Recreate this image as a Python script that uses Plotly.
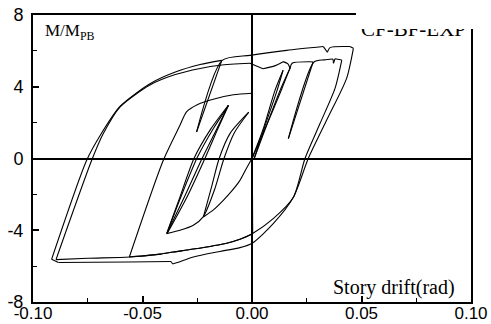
import plotly.graph_objects as go

# ---- data (story drift in rad, normalized moment M/M_PB) ----
pos_small_d = [0.000, 0.0050, 0.0105, 0.0142, 0.0112, 0.0060, 0.0010, 0.0062, 0.0128, 0.0174, 0.0135, 0.0070, 0.0000]
pos_small_m = [0.00, 1.60, 3.80, 4.92, 3.70, 1.85, 0.00, 1.70, 3.80, 5.05, 3.85, 1.95, 0.00]

neg_b_d = [0.0000, -0.0030, -0.0055, -0.0095, -0.0131, -0.0175, -0.0222, -0.0185, -0.0150, -0.0100, -0.0015,
           -0.0080, -0.0128, -0.0170, -0.0222, -0.0268, -0.0329, -0.0390]
neg_b_m = [0.00, -0.65, -1.22, -1.85, -2.33, -2.85, -3.26, -1.60, 0.00, 1.40, 2.58,
           1.45, 0.00, -1.70, -3.24, -3.72, -4.00, -4.19]

neg_a_d = [-0.0390, -0.0332, -0.0265, -0.0188, -0.0108, -0.0165, -0.0228, -0.0305, -0.0388,
           -0.0325, -0.0250, -0.0175, -0.0108, -0.0158, -0.0215, -0.0295, -0.0386]
neg_a_m = [-4.19, -2.25, 0.00, 1.65, 2.97, 1.55, 0.00, -2.05, -4.17,
           -2.15, 0.05, 1.70, 2.95, 1.60, 0.00, -2.10, -4.15]

cyc1_d = [0.0410, 0.0379, 0.0311, 0.0242, 0.0189, 0.0097, 0.0001, -0.0055, -0.0116, -0.0268, -0.0359, -0.0420, -0.0560,
          -0.0405, -0.0329, -0.0299, -0.0250, -0.0177, -0.0085, 0.0000,
          0.0003, -0.0055, -0.0116, -0.0268, -0.0359, -0.0420, -0.0560, -0.0750, -0.0895,
          -0.0732, -0.0679, -0.0603, -0.0466, -0.0350, -0.0237, -0.0146, -0.0009, 0.0050, 0.0100, 0.0142,
          0.0164, 0.0174, 0.0183, 0.0265, 0.0279, 0.0166, 0.0283, 0.0330, 0.0370, 0.0372, 0.0379, 0.0410]
cyc1_m = [5.49, 3.91, 1.96, 0.00, -2.16, -3.35, -4.19, -4.50, -4.72, -5.05, -5.21, -5.33, -5.49,
          -0.10, 1.85, 2.60, 3.00, 3.30, 3.55, 3.64,
          -4.19, -4.50, -4.72, -5.05, -5.21, -5.33, -5.49, -5.56, -5.64,
          -0.10, 1.39, 2.87, 4.10, 4.68, 5.02, 5.20, 5.31, 5.00, 5.15, 5.40,
          5.28, 5.03, 5.31, 5.39, 5.38, 1.11, 5.38, 5.50, 5.55, 5.31, 5.56, 5.49]

cyc2_d = [0.0463, 0.0432, 0.0345, 0.0257, 0.0189, 0.0097, 0.0001, -0.0055, -0.0146, -0.0268, -0.0340, -0.0362,
          -0.0370, -0.0565, -0.0884, -0.0915,
          -0.0755, -0.0690, -0.0603, -0.0466, -0.0350, -0.0237, -0.0138, -0.0253, -0.0136, -0.0009,
          0.0158, 0.0326, 0.0344, 0.0356, 0.0447, 0.0463]
cyc2_m = [6.14, 4.47, 2.24, 0.00, -2.16, -3.63, -4.72, -4.97, -5.18, -5.49, -5.80, -5.88,
          -5.74, -5.77, -5.80, -5.62,
          -0.10, 1.35, 2.90, 4.17, 4.82, 5.24, 5.47, 1.48, 5.47, 5.75,
          6.03, 6.24, 5.92, 6.18, 6.24, 6.14]

x_ticks = [-0.10, -0.05, 0.00, 0.05, 0.10]
x_tick_text = ["-0.10", "-0.05", "0.00", "0.05", "0.10"]
x_minor = [-0.075, -0.025, 0.025, 0.075]
y_ticks = [-8, -4, 0, 4, 8]
y_tick_text = ["-8", "-4", "0", "4", "8"]
y_minor = [-6, -2, 2, 6]


def branches(d, m):
    """Split a load path into branches at drift or moment reversals so each branch can be smoothed."""
    out, start = [], 0
    for i in range(1, len(d) - 1):
        rev_d = (d[i] - d[i - 1]) * (d[i + 1] - d[i]) < 0
        rev_m = (m[i] - m[i - 1]) * (m[i + 1] - m[i]) < 0
        if rev_d or rev_m:
            out.append((d[start:i + 1], m[start:i + 1]))
            start = i
    out.append((d[start:], m[start:]))
    return out


fig = go.Figure()
for d, m in [(pos_small_d, pos_small_m), (neg_b_d, neg_b_m), (neg_a_d, neg_a_m),
             (cyc1_d, cyc1_m), (cyc2_d, cyc2_m)]:
    for bd, bm in branches(d, m):
        fig.add_trace(go.Scatter(x=bd, y=bm, mode="lines", showlegend=False, hoverinfo="skip",
                                 line=dict(color="black", width=1.1, shape="spline", smoothing=0.7)))

x_font = dict(family="Liberation Sans, Arial, sans-serif", size=17, color="black")
y_font = dict(family="Liberation Sans, Arial, sans-serif", size=18, color="black")
fig.update_layout(
    width=491, height=324,
    margin=dict(l=33, r=20, t=15, b=22),
    paper_bgcolor="white", plot_bgcolor="white",
    xaxis=dict(range=[-0.1, 0.1], tickvals=x_ticks, ticktext=x_tick_text, ticks="inside", ticklen=6,
               tickwidth=1.5, tickcolor="black", showline=True, linewidth=2, linecolor="black", mirror=True,
               showgrid=False, zeroline=True, zerolinecolor="black", zerolinewidth=1.8,
               tickfont=x_font, automargin=False, ticklabelstandoff=-5,
               minor=dict(tickvals=x_minor, ticks="inside", ticklen=4, tickwidth=1.2, tickcolor="black")),
    yaxis=dict(range=[-8, 8], tickvals=y_ticks, ticktext=y_tick_text, ticks="inside", ticklen=6,
               tickwidth=1.5, tickcolor="black", showline=True, linewidth=2, linecolor="black", mirror=True,
               showgrid=False, zeroline=True, zerolinecolor="black", zerolinewidth=1.8,
               tickfont=y_font, automargin=False, ticklabelstandoff=4,
               minor=dict(tickvals=y_minor, ticks="inside", ticklen=4, tickwidth=1.2, tickcolor="black")),
)

serif = "Liberation Serif, Times New Roman, serif"
fig.add_annotation(text="M/M<sub>PB</sub>", xref="paper", yref="paper", x=0.022, y=0.985,
                   xanchor="left", yanchor="top", showarrow=False,
                   font=dict(family=serif, size=17, color="black"))
fig.add_annotation(text="Story drift(rad)", xref="paper", yref="paper", x=0.681, y=0.003,
                   xanchor="left", yanchor="bottom", showarrow=False,
                   font=dict(family=serif, size=20, color="black"))
fig.add_annotation(text="CF-BF-EXP", xref="paper", yref="paper", x=0.745, y=0.902,
                   xanchor="left", yanchor="bottom", showarrow=False,
                   font=dict(family=serif, size=21, color="black"))
# white mask covering the top-right corner (clips the label and frame as in the original)
fig.add_annotation(text=" ", xref="paper", yref="paper", x=1.0, y=1.06, xshift=7,
                   xanchor="right", yanchor="top", showarrow=False, width=122, height=31,
                   bgcolor="white", borderpad=0, borderwidth=0)

fig.write_html("out.html")
